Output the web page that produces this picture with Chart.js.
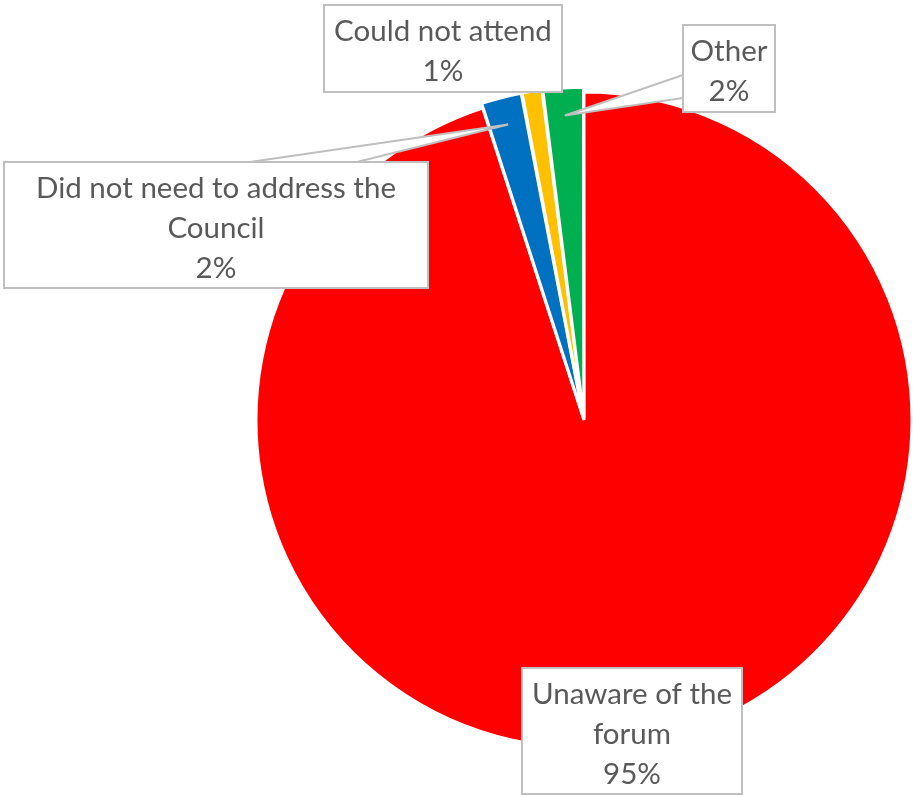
<!DOCTYPE html>
<html>
<head>
<meta charset="utf-8">
<script src="https://cdn.jsdelivr.net/npm/chart.js@4.4.1/dist/chart.umd.min.js"></script>
<style>
  html, body { margin: 0; padding: 0; background: #fff; }
</style>
</head>
<body>
<canvas id="pieChart" width="913" height="796"></canvas>
<script>
const categories = ['Unaware of the forum', 'Did not need to address the Council', 'Could not attend', 'Other'];
const shares = [95, 2, 1, 2];
const sliceColors = ['#FF0000', '#0070C0', '#FFC000', '#00B050'];
const explode = [0, 10, 10, 10];

// how each category name is broken into lines inside its callout
const labelLines = [
  ['Unaware of the', 'forum'],
  ['Did not need to address the', 'Council'],
  ['Could not attend'],
  ['Other']
];

// callout boxes [left, top, width, height]; pointer = where the wedge leaves the box
const calloutBoxes = [
  { box: [522, 668, 220, 126], pointer: null },
  { box: [4, 162, 424, 126], pointer: { side: 'top', from: 246, to: 353 } },
  { box: [324, 5, 238, 87], pointer: null },
  { box: [683, 25, 92, 87], pointer: { side: 'left', from: 50, to: 73 } }
];

const total = shares.reduce((a, b) => a + b, 0);

const calloutPlugin = {
  id: 'callouts',
  afterDatasetsDraw(chart) {
    const ctx = chart.ctx;
    const arcs = chart.getDatasetMeta(0).data;
    ctx.save();
    calloutBoxes.forEach((c, i) => {
      const arc = arcs[i];
      const [bx, by, bw, bh] = c.box;
      if (c.pointer) {
        const mid = (arc.startAngle + arc.endAngle) / 2;
        const dist = arc.outerRadius * 0.915 + explode[i] / 2;
        const tx = arc.x + Math.cos(mid) * dist;
        const ty = arc.y + Math.sin(mid) * dist;
        let p1, p2;
        if (c.pointer.side === 'top') {
          p1 = [bx + c.pointer.from, by];
          p2 = [bx + c.pointer.to, by];
        } else {
          p1 = [bx, by + c.pointer.from];
          p2 = [bx, by + c.pointer.to];
        }
        ctx.beginPath();
        ctx.moveTo(p1[0], p1[1]);
        ctx.lineTo(tx, ty);
        ctx.lineTo(p2[0], p2[1]);
        ctx.closePath();
        ctx.fillStyle = '#ffffff';
        ctx.fill();
        ctx.strokeStyle = '#BFBFBF';
        ctx.lineWidth = 2;
        ctx.stroke();
      }
      ctx.fillStyle = '#ffffff';
      ctx.fillRect(bx, by, bw, bh);
      ctx.strokeStyle = '#BFBFBF';
      ctx.lineWidth = 2;
      ctx.strokeRect(bx, by, bw, bh);

      const lines = labelLines[i].concat([Math.round(shares[i] / total * 100) + '%']);
      const lh = 40;
      const cy = by + bh / 2 + 3;
      ctx.fillStyle = '#595959';
      ctx.font = '29.5px Lato';
      ctx.textAlign = 'center';
      ctx.textBaseline = 'middle';
      lines.forEach((t, k) => {
        ctx.fillText(t, bx + bw / 2, cy + (k - (lines.length - 1) / 2) * lh);
      });
    });
    ctx.restore();
  }
};

new Chart(document.getElementById('pieChart'), {
  type: 'pie',
  data: {
    labels: categories,
    datasets: [{
      data: shares,
      backgroundColor: sliceColors,
      borderColor: '#ffffff',
      borderWidth: 3,
      offset: explode
    }]
  },
  options: {
    responsive: false,
    animation: false,
    devicePixelRatio: 1,
    radius: 328,
    layout: { padding: { left: 260, right: 5, top: 50, bottom: 6 } },
    plugins: {
      legend: { display: false },
      tooltip: { enabled: false }
    }
  },
  plugins: [calloutPlugin]
});
</script>
</body>
</html>
